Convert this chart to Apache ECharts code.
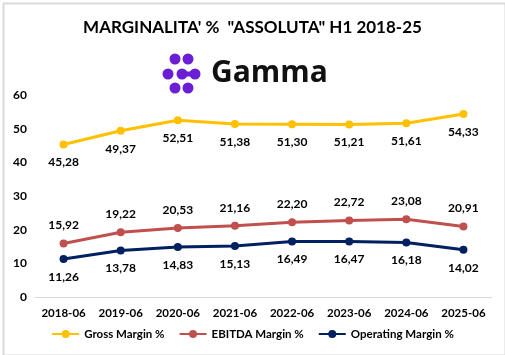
<!DOCTYPE html>
<html><head><meta charset="utf-8">
<script src="https://cdn.jsdelivr.net/npm/echarts@6/dist/echarts.min.js"></script>
<style>html,body{margin:0;padding:0;background:#fff}#c{width:505px;height:355px}</style>
</head><body><div id="c"></div>
<script>
const categories = ['2018-06','2019-06','2020-06','2021-06','2022-06','2023-06','2024-06','2025-06'];
const grossMargin = [45.28, 49.37, 52.51, 51.38, 51.30, 51.21, 51.61, 54.33];
const ebitdaMargin = [15.92, 19.22, 20.53, 21.16, 22.20, 22.72, 23.08, 20.91];
const operatingMargin = [11.26, 13.78, 14.83, 15.13, 16.49, 16.47, 16.18, 14.02];
const seriesNames = ['Gross Margin %', 'EBITDA Margin %', 'Operating Margin %'];
const yTicks = [0, 10, 20, 30, 40, 50, 60];

const FONT = 'Lato, "Open Sans", sans-serif';
const fmt = p => p.value.toFixed(2).replace('.', ',');
function mk(name, data, color, pos, dist) {
  return {
    name, type: 'line', data,
    symbol: 'circle', symbolSize: 8,
    lineStyle: { width: 3, color },
    itemStyle: { color },
    label: { show: true, position: pos, distance: dist, formatter: fmt,
      color: '#000', fontWeight: 'bold', fontSize: 12, fontFamily: FONT }
  };
}
const chart = echarts.init(document.getElementById('c'), null, { renderer: 'canvas' });
const dots = [[175,59],[188,59],[168,74],[182,74],[195,74],[175,88],[188,88]];
chart.setOption({
  animation: false,
  textStyle: { fontFamily: FONT },
  title: { text: 'MARGINALITA\' %  "ASSOLUTA" H1 2018-25', left: 'center', top: 14,
    textStyle: { fontSize: 17, fontWeight: 'bold', color: '#000', fontFamily: FONT } },
  graphic: [
    { type: 'rect', left: 1, top: 1, shape: { width: 502, height: 352 },
      style: { fill: 'none', stroke: '#d9d9d9', lineWidth: 2 }, silent: true },
    ...dots.map(d => ({ type: 'circle', shape: { cx: d[0], cy: d[1], r: 5.5 }, style: { fill: '#6b1fd3' } })),
    { type: 'rect', shape: { x: 182, y: 71.5, width: 13, height: 5 }, style: { fill: '#6b1fd3' } },
    { type: 'text', left: 211, top: 58, style: { text: 'Gamma', font: 'bold 30px "Open Sans", ' + FONT, fill: '#111' } }
  ],
  legend: { bottom: 10, left: 'center', itemWidth: 27, itemHeight: 10, itemGap: 14,
    data: seriesNames,
    textStyle: { fontSize: 11.5, fontWeight: 'bold', color: '#000', fontFamily: FONT } },
  grid: { left: 35, right: 13, top: 95, bottom: 58 },
  xAxis: { type: 'category', data: categories, boundaryGap: true,
    axisLine: { lineStyle: { color: '#d9d9d9', width: 1 } }, axisTick: { show: false },
    axisLabel: { interval: 0, color: '#000', fontWeight: 'bold', fontSize: 11.5, margin: 10, fontFamily: FONT } },
  yAxis: { type: 'value', min: yTicks[0], max: yTicks[yTicks.length-1], interval: 10,
    splitLine: { show: false }, axisLine: { show: false }, axisTick: { show: false },
    axisLabel: { color: '#000', fontWeight: 'bold', fontSize: 12, margin: 8, fontFamily: FONT } },
  series: [
    mk(seriesNames[0], grossMargin, '#ffc000', 'bottom', 8),
    mk(seriesNames[1], ebitdaMargin, '#c0504d', 'top', 8),
    mk(seriesNames[2], operatingMargin, '#002060', 'bottom', 8)
  ]
});
</script></body></html>
